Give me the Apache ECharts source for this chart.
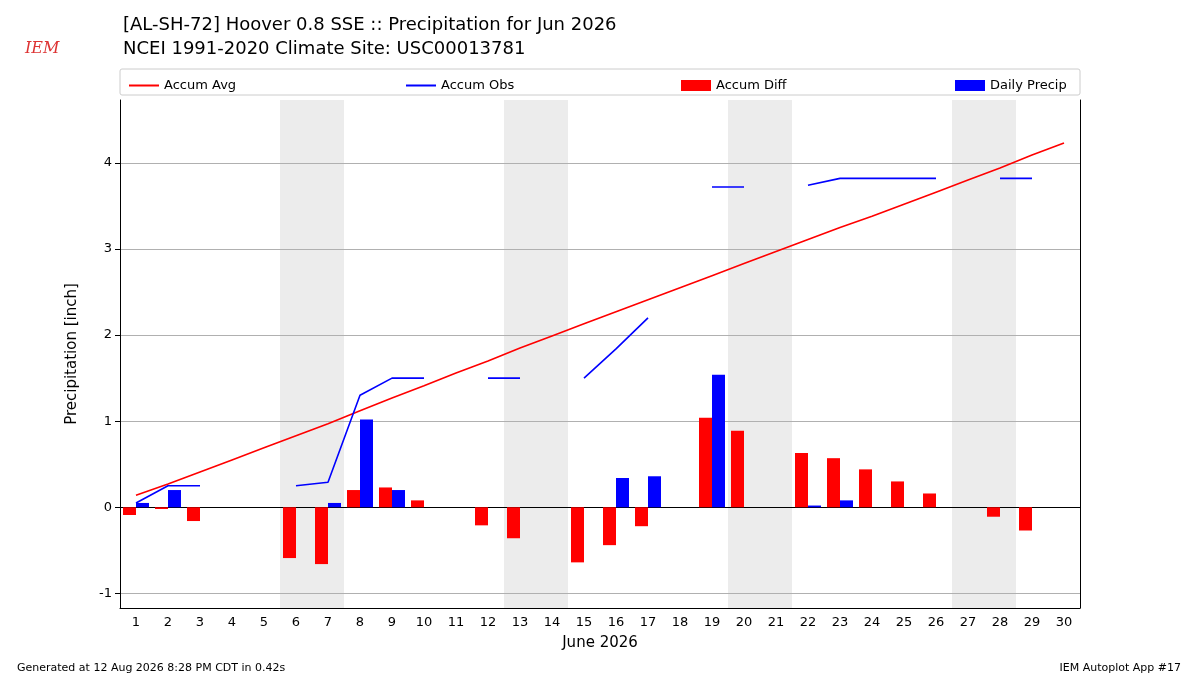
<!DOCTYPE html>
<html><head><meta charset="utf-8">
<script src="https://cdn.jsdelivr.net/npm/echarts@6/dist/echarts.min.js"></script>
<style>html,body{margin:0;padding:0;background:#fff}#c{width:1200px;height:675px}</style>
</head><body><div id="c"></div>
<script>
const days = Array.from({length:30},(_,i)=>String(i+1));
const accumAvg = [0.14,0.27,0.41,0.55,0.69,0.83,0.97,1.12,1.27,1.41,1.56,1.70,1.85,1.99,2.13,2.27,2.41,2.55,2.69,2.83,2.97,3.11,3.25,3.38,3.52,3.66,3.80,3.94,4.09,4.23];
const accumObs = [0.05,0.25,0.25,null,null,0.25,0.29,1.30,1.50,1.50,null,1.50,1.50,null,1.50,1.84,2.20,null,3.72,3.72,null,3.74,3.82,3.82,3.82,3.82,null,3.82,3.82,null];
const accumDiff = [-0.09,-0.02,-0.16,null,null,-0.59,-0.66,0.20,0.23,0.08,null,-0.21,-0.36,null,-0.64,-0.44,-0.22,null,1.04,0.89,null,0.63,0.57,0.44,0.30,0.16,null,-0.11,-0.27,null];
const dailyPrecip = [0.05,0.20,null,null,null,null,0.05,1.02,0.20,null,null,null,null,null,null,0.34,0.36,null,1.54,null,null,0.02,0.08,null,null,null,null,null,null,null];
const weekends = [[5.5,7.5],[12.5,14.5],[19.5,21.5],[26.5,28.5]];
const yTicks = [-1,0,1,2,3,4];

const chart = echarts.init(document.getElementById('c'));
const F = 'DejaVu Sans';
const lg = (name,left,h)=>({data:[{name,icon:'rect'}],left,top:74,itemWidth:30,itemHeight:h,itemGap:8,textStyle:{fontFamily:F,fontSize:13,color:'#000'},selectedMode:false});
chart.setOption({
  animation:false,
  textStyle:{fontFamily:F},
  title:[
    {text:'[AL-SH-72] Hoover 0.8 SSE :: Precipitation for Jun 2026\nNCEI 1991-2020 Climate Site: USC00013781',left:118,top:8,textStyle:{fontFamily:F,fontSize:18,fontWeight:'normal',lineHeight:24,color:'#000'}},
    {text:'Generated at 12 Aug 2026 8:28 PM CDT in 0.42s',left:12,top:658,textStyle:{fontFamily:F,fontSize:11,fontWeight:'normal',color:'#000'}},
    {text:'IEM Autoplot App #17',right:14,top:658,textStyle:{fontFamily:F,fontSize:11,fontWeight:'normal',color:'#000'}},
    {text:'IEM',left:20,top:36,textStyle:{fontFamily:'DejaVu Serif',fontSize:16,fontStyle:'italic',fontWeight:'normal',color:'#d33'}}
  ],
  graphic:[{type:'rect',shape:{x:120,y:69,width:960,height:26,r:2},style:{fill:'none',stroke:'#ccc',lineWidth:1}}],
  legend:[lg('Accum Avg',124,2),lg('Accum Obs',401,2),lg('Accum Diff',676,11),lg('Daily Precip',950,11)],
  grid:{left:120,right:120,top:100,bottom:67},
  xAxis:[
    {type:'category',data:days,axisLine:{onZero:false,lineStyle:{color:'#000'}},axisTick:{alignWithLabel:true,lineStyle:{color:'#000'}},axisLabel:{color:'#000',fontSize:13,fontFamily:F},name:'June 2026',nameLocation:'middle',nameGap:28,nameTextStyle:{fontSize:15,color:'#000',fontFamily:F}},
    {type:'value',min:0.5,max:30.5,position:'top',axisLine:{show:true,lineStyle:{color:'#000'}},axisTick:{show:false},axisLabel:{show:false},splitLine:{show:false}}
  ],
  yAxis:[
    {type:'value',min:-1.17,max:4.73,axisLine:{show:true,lineStyle:{color:'#000'}},axisTick:{show:true,customValues:yTicks,lineStyle:{color:'#000'}},axisLabel:{customValues:yTicks,color:'#000',fontSize:13,fontFamily:F},splitLine:{show:false},name:'Precipitation [inch]',nameLocation:'middle',nameGap:40,nameTextStyle:{fontSize:15,color:'#000',fontFamily:F}},
    {type:'value',min:-1.17,max:4.73,position:'right',axisLine:{show:true,lineStyle:{color:'#000'}},axisTick:{show:false},axisLabel:{show:false},splitLine:{show:false}}
  ],
  series:[
    {name:'shade',type:'line',xAxisIndex:1,data:[],z:0,markArea:{silent:true,z:0,itemStyle:{color:'#ececec'},data:weekends.map(w=>[{xAxis:w[0]},{xAxis:w[1]}])},
      markLine:{silent:true,z:0,symbol:'none',label:{show:false},lineStyle:{color:'#b0b0b0',type:'solid',width:1},data:yTicks.map(v=>({yAxis:v}))}},
    {name:'Accum Diff',type:'bar',z:5,data:accumDiff,barWidth:13,barGap:'0%',itemStyle:{color:'#ff0000'}},
    {name:'Daily Precip',type:'bar',z:5,data:dailyPrecip,barWidth:13,barGap:'0%',itemStyle:{color:'#0000ff'}},
    {name:'Accum Avg',type:'line',z:6,data:accumAvg,symbol:'none',lineStyle:{color:'#ff0000',width:1.6},itemStyle:{color:'#ff0000'}},
    {name:'Accum Obs',type:'line',z:6,data:accumObs,symbol:'none',connectNulls:false,lineStyle:{color:'#0000ff',width:1.6},itemStyle:{color:'#0000ff'}}
  ]
});
</script></body></html>
